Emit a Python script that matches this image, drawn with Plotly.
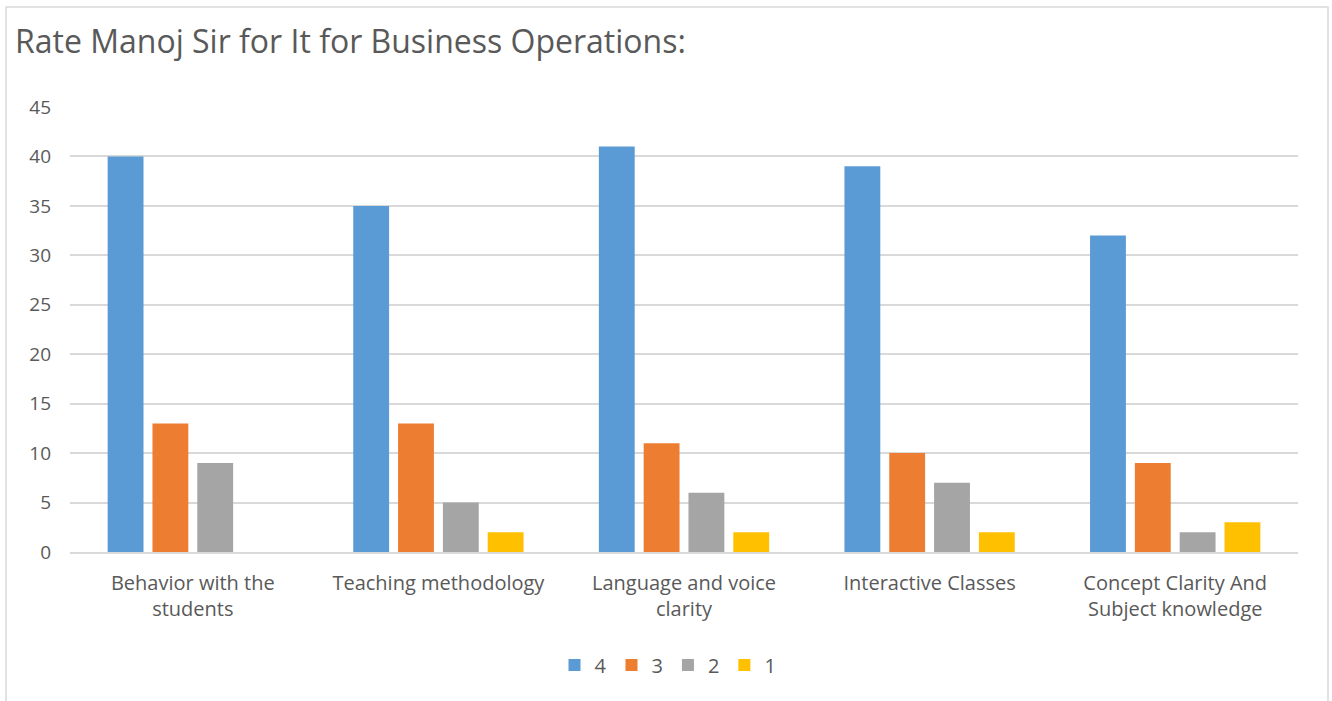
import plotly.graph_objects as go

categories = ["Behavior with the<br>students", "Teaching methodology", "Language and voice<br>clarity",
              "Interactive Classes", "Concept Clarity And<br>Subject knowledge"]
series_names = ["4", "3", "2", "1"]
s4 = [40, 35, 41, 39, 32]
s3 = [13, 13, 11, 10, 9]
s2 = [9, 5, 6, 7, 2]
s1 = [0, 2, 2, 2, 3]
colors = ["#5B9BD5", "#ED7D31", "#A5A5A5", "#FFC000"]
y_ticks = [0, 5, 10, 15, 20, 25, 30, 35, 40, 45]

W, H = 1332, 701
L, R, T, B = 70, 1298, 107, 552
pw, ph = R - L, B - T

fig = go.Figure()
for name, vals, c in zip(series_names, [s4, s3, s2, s1], colors):
    fig.add_trace(go.Bar(x=categories, y=vals, name=name, marker=dict(color=c, line=dict(width=0))))

fig.update_layout(
    width=W, height=H,
    margin=dict(l=L, r=W - R, t=T, b=H - B, pad=0),
    paper_bgcolor="white", plot_bgcolor="white",
    barmode="group", bargap=0.27, bargroupgap=0.2,
    font=dict(family="Open Sans", color="#595959", size=20),
    title=dict(text="Rate Manoj Sir for It for Business Operations:", x=15 / W, xanchor="left",
               xref="container", yref="container", y=1 - 42 / H, yanchor="middle",
               font=dict(size=32, color="#595959", family="Open Sans")),
    legend=dict(orientation="h", x=668 / W, xanchor="center", xref="container",
                yref="container", y=1 - 665 / H, yanchor="middle",
                font=dict(size=20, color="#595959"), traceorder="normal",
                itemwidth=30, tracegroupgap=0),
    showlegend=True,
)
fig.update_yaxes(range=[0, 45], tickvals=y_ticks, showgrid=True, gridcolor="#D9D9D9", gridwidth=1.5,
                 zeroline=False, showline=False, ticks="", ticklabelstandoff=18,
                 tickfont=dict(size=19, color="#595959"))
fig.update_xaxes(showline=True, linecolor="#D9D9D9", linewidth=1.5, ticks="", showgrid=False,
                 tickfont=dict(size=20, color="#595959"), ticklabelstandoff=12)

# outer chart border (bottom edge lies outside the visible picture)
fig.add_shape(type="rect", xref="paper", yref="paper",
              x0=(6 - L) / pw, x1=(1328 - L) / pw,
              y0=(B - 720) / ph, y1=(B - 7) / ph,
              line=dict(color="#D9D9D9", width=1.5), fillcolor="rgba(0,0,0,0)", layer="below")

fig.write_html("out.html", config={"displayModeBar": False},
               post_script="document.body.style.margin='0';document.body.style.overflow='hidden';")
